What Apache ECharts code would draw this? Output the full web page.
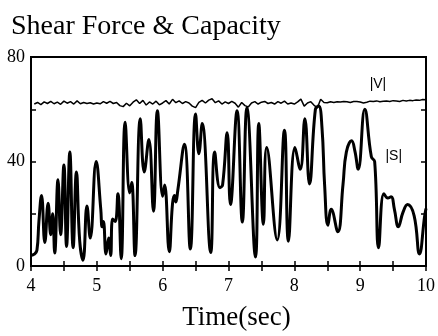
<!DOCTYPE html>
<html><head><meta charset="utf-8">
<script src="https://cdn.jsdelivr.net/npm/echarts@6/dist/echarts.min.js"></script>
<style>html,body{margin:0;padding:0;background:#fff}#c{width:438px;height:336px}</style>
</head><body><div id="c"></div>
<script>
var titleText = 'Shear Force & Capacity';
var xName = 'Time(sec)';
var xMin = 4, xMax = 10, yMin = 0, yMax = 80;
var labelV = '|V|', labelVPos = [9.27, 69.8];
var labelS = '|S|', labelSPos = [9.51, 42];

// |S| shear force: [time, value]
var sData = [
 [4.00,4],[4.05,4.5],[4.09,6],[4.12,17],[4.16,27],[4.21,9],[4.26,24],[4.30,12],[4.33,20],[4.36,5],
 [4.41,33],[4.45,12],[4.50,38.7],[4.54,7.5],[4.59,43.6],[4.64,7],[4.69,36],[4.74,9.5],[4.79,2.2],
 [4.85,23],[4.90,10.7],[4.99,40],[5.06,21.7],[5.08,15],[5.10,17],[5.14,4.6],[5.18,10.7],[5.21,4],
 [5.24,18],[5.28,17],[5.32,27.7],[5.37,2.8],[5.43,55],[5.50,28],[5.53,32],[5.58,4],[5.66,56.4],
 [5.72,36],[5.79,48.4],[5.86,21],[5.92,59.4],[6.00,26.7],[6.03,31],[6.10,5.5],[6.15,24],[6.18,27],
 [6.20,24.5],[6.23,29],[6.33,46.6],[6.42,6.5],[6.50,58.2],[6.55,43],[6.60,54.5],[6.73,5.2],
 [6.79,43.6],[6.87,30],[6.91,31],[6.98,51],[7.03,23.5],[7.13,59.4],[7.21,16.8],[7.28,60.6],
 [7.41,3.4],[7.46,54.5],[7.53,16],[7.58,45.4],[7.74,10],[7.85,52],[7.91,9.5],[8.01,45.4],
 [8.09,37],[8.16,56.4],[8.23,31.4],[8.32,60],[8.37,61.2],[8.42,53],[8.46,31],[8.51,15.6],
 [8.56,21.7],[8.66,13.1],[8.74,31.4],[8.79,43.6],[8.87,47.9],[8.92,44],[8.97,37],[9.07,60],
 [9.17,41.8],[9.22,40],[9.28,7],[9.36,27.7],[9.42,26],[9.47,26.5],[9.52,21.7],[9.58,15],
 [9.65,20.5],[9.72,23.5],[9.82,19.2],[9.90,4.6],[9.98,19.2],[10.00,22]
];

// |V| capacity: [time, value]
var vData = [
 [4.05,62.0],[4.10,62.6],[4.15,61.8],[4.20,62.8],[4.25,62.2],[4.30,63.0],[4.35,62.1],[4.40,62.7],
 [4.45,61.9],[4.50,63.1],[4.55,62.3],[4.60,62.9],[4.65,62.0],[4.70,63.2],[4.75,62.1],[4.80,62.6],
 [4.85,62.2],[4.90,62.5],[4.95,62.0],[5.00,62.4],[5.05,62.1],[5.10,62.9],[5.15,62.3],[5.20,63.0],
 [5.25,62.2],[5.30,62.6],[5.35,61.4],[5.40,61.0],[5.45,62.3],[5.50,61.3],[5.55,62.7],[5.60,63.6],
 [5.65,62.2],[5.70,63.4],[5.75,61.6],[5.80,62.8],[5.85,62.0],[5.90,63.1],[5.95,61.7],[6.00,62.4],
 [6.05,63.3],[6.10,62.0],[6.15,63.8],[6.20,62.5],[6.25,63.2],[6.30,62.2],[6.35,62.9],[6.40,62.4],
 [6.45,61.2],[6.50,60.6],[6.55,62.6],[6.60,63.4],[6.65,62.4],[6.70,63.5],[6.75,64.0],[6.80,62.5],
 [6.85,63.2],[6.90,62.0],[6.95,62.8],[7.00,62.2],[7.05,63.0],[7.10,62.3],[7.15,60.8],[7.20,62.6],
 [7.25,61.4],[7.30,60.9],[7.35,62.4],[7.40,62.9],[7.45,62.0],[7.50,62.7],[7.55,63.0],[7.60,62.2],
 [7.65,62.6],[7.70,62.0],[7.75,62.9],[7.80,62.3],[7.85,63.1],[7.90,62.0],[7.95,62.4],[8.00,62.0],
 [8.05,62.8],[8.10,63.9],[8.15,61.2],[8.20,62.4],[8.25,62.9],[8.30,61.5],[8.35,60.6],[8.40,63.8],
 [8.45,62.6],[8.50,62.5],[8.55,62.9],[8.60,62.6],[8.65,62.9],[8.70,62.8],[8.75,63.0],[8.80,62.9],
 [8.85,62.6],[8.90,63.0],[8.95,63.0],[9.00,62.8],[9.05,62.4],[9.10,62.7],[9.15,63.1],[9.20,63.0],
 [9.25,63.2],[9.30,62.9],[9.35,63.1],[9.40,63.2],[9.45,63.0],[9.50,63.3],[9.55,63.2],[9.60,63.0],
 [9.65,63.4],[9.70,63.2],[9.75,63.4],[9.80,63.3],[9.85,63.5],[9.90,63.4],[9.95,63.7],[10.00,63.6]
];

var serif = '"Liberation Serif","Times New Roman",serif';
var chart = echarts.init(document.getElementById('c'), null, {renderer:'canvas'});
var tickStyle = {show:true, inside:true, length:5, lineStyle:{color:'#000', width:1.5}};
var minorStyle = {show:true, splitNumber:2, length:5, lineStyle:{color:'#000', width:1.5}};
chart.setOption({
  animation:false,
  backgroundColor:'#fff',
  title:{text:titleText, left:6, top:8, textStyle:{fontFamily:serif, fontSize:28, fontWeight:'normal', color:'#000'}},
  grid:{left:31, right:10, top:57, bottom:60, show:true, borderColor:'#000', borderWidth:2, backgroundColor:'transparent'},
  xAxis:[{
    type:'value', min:xMin, max:xMax, interval:1, position:'bottom',
    name:xName, nameLocation:'middle', nameGap:38,
    nameTextStyle:{fontFamily:serif, fontSize:27, color:'#000', padding:[0,0,0,16]},
    axisLine:{show:true, lineStyle:{color:'#000', width:2}},
    axisTick:tickStyle, minorTick:minorStyle,
    axisLabel:{fontFamily:serif, fontSize:18, color:'#000', margin:11},
    splitLine:{show:false}
  },{
    type:'value', min:xMin, max:xMax, interval:1, position:'top',
    axisLine:{show:true, lineStyle:{color:'#000', width:2}},
    axisTick:tickStyle, minorTick:minorStyle, axisLabel:{show:false}, splitLine:{show:false}
  }],
  yAxis:[{
    type:'value', min:yMin, max:yMax, interval:40, position:'left',
    axisLine:{show:true, lineStyle:{color:'#000', width:2}},
    axisTick:tickStyle, minorTick:minorStyle,
    axisLabel:{fontFamily:serif, fontSize:18, color:'#000', margin:6, padding:[5,0,0,0]},
    splitLine:{show:false}
  },{
    type:'value', min:yMin, max:yMax, interval:40, position:'right',
    axisLine:{show:true, lineStyle:{color:'#000', width:2}},
    axisTick:tickStyle, minorTick:minorStyle, axisLabel:{show:false}, splitLine:{show:false}
  }],
  series:[{
    name:'V', type:'line', data:vData, showSymbol:false, smooth:false,
    lineStyle:{color:'#000', width:1.5},
    markPoint:{symbol:'circle', symbolSize:0, data:[{coord:labelVPos, value:labelV}],
      label:{show:true, formatter:labelV, position:'inside', fontFamily:'"Liberation Sans",Arial,sans-serif', fontSize:14, color:'#000'}}
  },{
    name:'S', type:'line', data:sData, showSymbol:false, smooth:0.45,
    lineStyle:{color:'#000', width:3},
    markPoint:{symbol:'circle', symbolSize:0, data:[{coord:labelSPos, value:labelS}],
      label:{show:true, formatter:labelS, position:'inside', fontFamily:'"Liberation Sans",Arial,sans-serif', fontSize:14, color:'#000'}}
  }]
});
</script></body></html>
